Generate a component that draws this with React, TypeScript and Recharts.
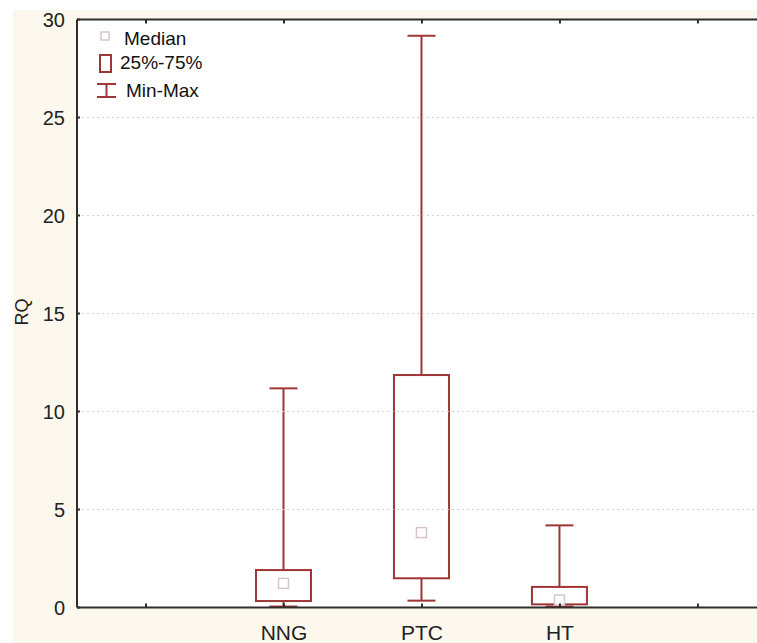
import React from "react";
import { ComposedChart, Bar, XAxis, YAxis, ReferenceArea, ReferenceLine } from "recharts";

const categories = ["", "NNG", "PTC", "HT", ""];
const positions = [0, 1, 2, 3, 4];
const minValues: (number | null)[] = [null, 0.05, 0.35, 0.05, null];
const q1Values: (number | null)[] = [null, 0.33, 1.49, 0.16, null];
const medianValues: (number | null)[] = [null, 1.23, 3.82, 0.38, null];
const q3Values: (number | null)[] = [null, 1.91, 11.86, 1.05, null];
const maxValues: (number | null)[] = [null, 11.18, 29.17, 4.19, null];
const yTicks = [0, 5, 10, 15, 20, 25, 30];
const gridValues = [5, 10, 15, 20, 25];
const xDomain: [number, number] = [-0.5, 4.428];
const yDomain: [number, number] = [0, 30];
const legendLabels = ["Median", "25%-75%", "Min-Max"];
const axisTitle = "RQ";

const data = categories.map((c, i) => ({
  name: c,
  pos: positions[i],
  min: minValues[i],
  q1: q1Values[i],
  median: medianValues[i],
  q3: q3Values[i],
  max: maxValues[i],
}));

const BOX = "#9e3636";
const MED = "#d6c6c6";
const AXIS = "#2e2e2e";
const GRID = "#d4d4d4";
const FONT = "'Liberation Sans', Arial, sans-serif";

const BoxShape = (props: any) => {
  const { x, y, width, height, payload } = props;
  if (payload == null || payload.min == null) return null;
  const { min, q1, median, q3, max } = payload;
  const yOf = (v: number) => y + (height * (max - v)) / (max - min);
  const cx = x + width / 2;
  const capHalf = 14;
  const yQ3 = yOf(q3);
  const yQ1 = yOf(q1);
  const yMed = yOf(median);
  const yMax = yOf(max);
  const yMin = yOf(min);
  return (
    <g>
      <line x1={cx} x2={cx} y1={yMax} y2={yQ3} stroke={BOX} strokeWidth={2} />
      <line x1={cx} x2={cx} y1={yQ1} y2={yMin} stroke={BOX} strokeWidth={2} />
      <line x1={cx - capHalf} x2={cx + capHalf} y1={yMax} y2={yMax} stroke={BOX} strokeWidth={2} />
      <line x1={cx - capHalf} x2={cx + capHalf} y1={yMin} y2={yMin} stroke={BOX} strokeWidth={2} />
      <rect x={x} y={yQ3} width={width} height={yQ1 - yQ3} fill="#ffffff" stroke={BOX} strokeWidth={2} />
      <rect x={cx - 5} y={yMed - 5} width={10} height={10} fill="#ffffff" stroke={MED} strokeWidth={1.5} />
    </g>
  );
};

const BottomTick = (props: any) => {
  const { x, y, payload } = props;
  const label = categories[positions.indexOf(payload.value)] ?? "";
  return (
    <g>
      <line x1={x} x2={x} y1={y - 4} y2={y} stroke={AXIS} strokeWidth={2} />
      <text x={x} y={y + 32} textAnchor="middle" fontSize={21} fontFamily={FONT} fill="#222">
        {label}
      </text>
    </g>
  );
};

const TopTick = (props: any) => {
  const { x, y } = props;
  return <line x1={x} x2={x} y1={y} y2={y + 4} stroke={AXIS} strokeWidth={2} />;
};

const LeftTick = (props: any) => {
  const { x, y, payload } = props;
  return (
    <g>
      <line x1={x} x2={x + 3} y1={y} y2={y} stroke={AXIS} strokeWidth={2} />
      <text x={x - 12} y={y + 7} textAnchor="end" fontSize={20} fontFamily={FONT} fill="#222">
        {payload.value}
      </text>
    </g>
  );
};

const LegendOverlay = () => (
  <svg
    width={757}
    height={643}
    style={{ position: "absolute", left: 0, top: 0, pointerEvents: "none" }}
  >
    <g fontFamily={FONT} fill="#111">
      <rect x={101} y={32} width={8} height={8} fill="#fff" stroke={MED} strokeWidth={1.5} />
      <text x={124} y={45} fontSize={19}>{legendLabels[0]}</text>
      <rect x={100} y={55} width={11} height={17} fill="#fff" stroke={BOX} strokeWidth={2} />
      <text x={120} y={69} fontSize={19}>{legendLabels[1]}</text>
      <line x1={97} x2={116} y1={84} y2={84} stroke={BOX} strokeWidth={2} />
      <line x1={97} x2={116} y1={97} y2={97} stroke={BOX} strokeWidth={2} />
      <line x1={106.5} x2={106.5} y1={84} y2={97} stroke={BOX} strokeWidth={2} />
      <text x={126} y={97} fontSize={19}>{legendLabels[2]}</text>
      <text
        x={0}
        y={0}
        transform="translate(28,312) rotate(-90)"
        textAnchor="middle"
        fontSize={18}
        fill="#222"
      >
        {axisTitle}
      </text>
    </g>
  </svg>
);

export default function App() {
  return (
    <div
      style={{
        position: "absolute",
        left: 0,
        top: 0,
        width: 757,
        height: 643,
        overflow: "hidden",
        background: "#ffffff",
      }}
    >
      <div
        style={{
          position: "absolute",
          left: 13,
          top: 10,
          width: 744,
          height: 633,
          background: "#fcf8ed",
        }}
      />
      <div style={{ position: "absolute", left: 0, top: 0 }}>
        <ComposedChart
          width={757}
          height={643}
          data={data}
          margin={{ top: 9.5, right: 0, bottom: 0, left: 17 }}
        >
          <XAxis
            dataKey="pos"
            type="number"
            xAxisId="bottom"
            orientation="bottom"
            domain={xDomain}
            allowDataOverflow
            ticks={positions}
            height={35.5}
            interval={0}
            tickSize={0}
            tickMargin={0}
            axisLine={false}
            tickLine={false}
            tick={<BottomTick />}
          />
          <XAxis
            dataKey="pos"
            type="number"
            xAxisId="top"
            orientation="top"
            domain={xDomain}
            allowDataOverflow
            ticks={positions}
            height={10}
            interval={0}
            tickSize={0}
            tickMargin={0}
            axisLine={false}
            tickLine={false}
            tick={<TopTick />}
          />
          <YAxis
            width={60}
            domain={yDomain}
            ticks={yTicks}
            interval={0}
            tickSize={0}
            tickMargin={0}
            axisLine={false}
            tickLine={false}
            tick={<LeftTick />}
          />
          <ReferenceArea
            xAxisId="bottom"
            x1={xDomain[0]}
            x2={xDomain[1]}
            y1={yDomain[0]}
            y2={yDomain[1]}
            fill="#ffffff"
            fillOpacity={1}
            stroke="none"
          />
          {gridValues.map((v) => (
            <ReferenceLine
              key={v}
              xAxisId="bottom"
              y={v}
              stroke={GRID}
              strokeWidth={1}
              strokeDasharray="2 3"
            />
          ))}
          <ReferenceLine xAxisId="bottom" y={yDomain[1]} stroke={AXIS} strokeWidth={2} />
          <ReferenceLine xAxisId="bottom" y={yDomain[0]} stroke={AXIS} strokeWidth={2} />
          <ReferenceLine xAxisId="bottom" x={xDomain[0]} stroke={AXIS} strokeWidth={2} />
          <Bar
            xAxisId="bottom"
            dataKey={(d: any) => (d.min == null ? null : [d.min, d.max])}
            barSize={55}
            isAnimationActive={false}
            shape={<BoxShape />}
          />
        </ComposedChart>
      </div>
      <LegendOverlay />
    </div>
  );
}
